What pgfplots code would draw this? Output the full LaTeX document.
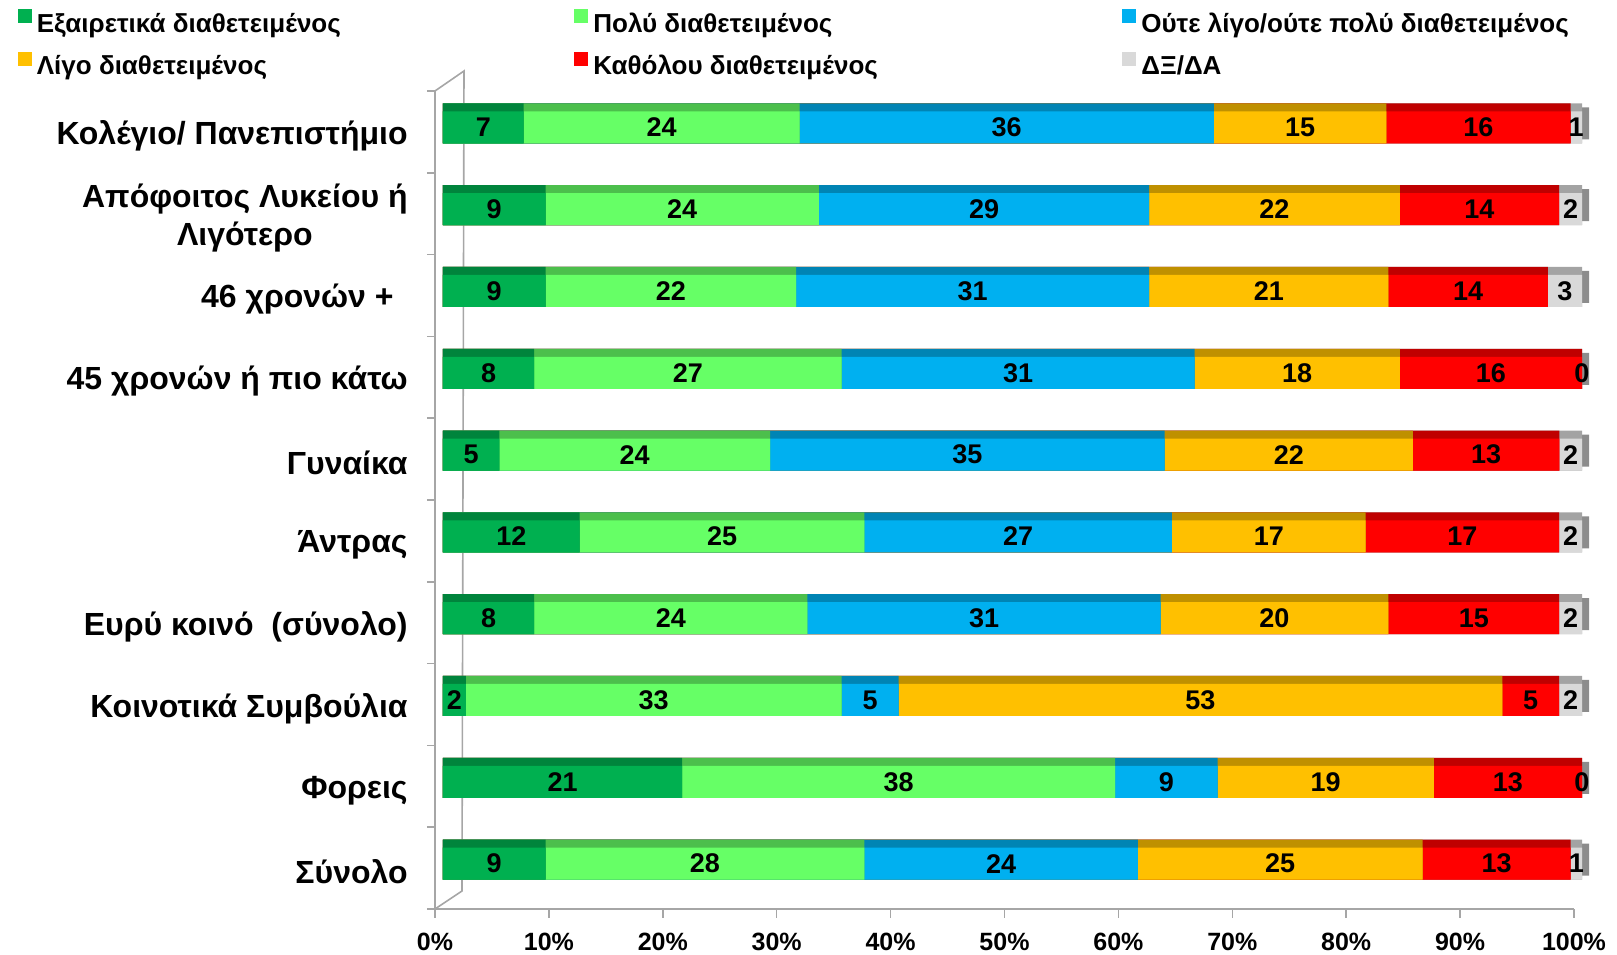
\documentclass[border=0pt]{standalone}
\usepackage{pgfplots}
\pgfplotsset{compat=1.18}
\usepackage{pgfplotstable}
\usepackage{fontspec}
\setmainfont{Liberation Sans}
\definecolor{cA}{HTML}{00B050}
\definecolor{cB}{HTML}{66FF66}
\definecolor{cC}{HTML}{00B0F0}
\definecolor{cD}{HTML}{FFC000}
\definecolor{cE}{HTML}{FF0000}
\definecolor{cF}{HTML}{D9D9D9}
\definecolor{axgray}{HTML}{A6A6A6}

% y: 0 = bottom category
\pgfplotstableread{
y a b c d e f
0 9 28 24 25 13 1
1 21 38 9 19 13 0
2 2 33 5 53 5 2
3 8 24 31 20 15 2
4 12 25 27 17 17 2
5 5 24 35 22 13 2
6 8 27 31 18 16 0
7 9 22 31 21 14 3
8 9 24 29 22 14 2
9 7 24 36 15 16 1
}\data

\newcommand\cumA{(\thisrow{a})}
\newcommand\cumB{(\thisrow{a}+\thisrow{b})}
\newcommand\cumC{(\thisrow{a}+\thisrow{b}+\thisrow{c})}
\newcommand\cumD{(\thisrow{a}+\thisrow{b}+\thisrow{c}+\thisrow{d})}
\newcommand\cumE{(\thisrow{a}+\thisrow{b}+\thisrow{c}+\thisrow{d}+\thisrow{e})}
\newcommand\cumF{(\thisrow{a}+\thisrow{b}+\thisrow{c}+\thisrow{d}+\thisrow{e}+\thisrow{f})}

\newcommand\segbar[2]{%
  \addplot[xbar, bar width=20pt, bar shift=4.25pt, xshift=4pt, fill=#1!75!black, draw=none, forget plot]
    table[y=y, x expr={100*#2/\cumF}] \data;
  \addplot[xbar, bar width=16pt, bar shift=2.25pt, xshift=4pt, fill=#1, draw=none, forget plot]
    table[y=y, x expr={100*#2/\cumF}] \data;
}
\newcommand\seglabel[2]{%
  \addplot[draw=none, mark=none, forget plot, nodes near coords, point meta=explicit symbolic,
    every node near coord/.style={font=\bfseries\fontsize{13.5}{13.5}\selectfont, anchor=center, inner sep=0pt, yshift=2.25pt, xshift=4pt}]
    table[y=y, x expr={100*(#2)/\cumF}, meta=#1] \data;
}

\begin{document}
\begin{tikzpicture}
\begin{axis}[
  scale only axis,
  width=569.5pt, height=409pt,
  xmin=0, xmax=100, ymin=-0.5, ymax=9.5,
  clip=false,
  axis lines*=left,
  axis line style={axgray, line width=1pt},
  tick align=outside,
  xtick={0,10,...,100},
  xticklabel={\pgfmathprintnumber{\tick}\%},
  /pgf/number format/assume math mode=true,
  x tick label style={font=\bfseries\fontsize{12.5}{12.5}\selectfont, yshift=-4pt},
  xtick style={axgray, line width=0.8pt},
  major tick length=4.5pt,
  minor tick length=4pt,
  ytick={0,...,9},
  yticklabels={Σύνολο, Φορεις, Κοινοτικά Συμβούλια, Ευρύ κοινό\ \ (σύνολο), Άντρας, Γυναίκα,
    45 χρονών ή πιο κάτω, 46 χρονών +\rule{7pt}{0pt}, {Απόφοιτος Λυκείου ή\\Λιγότερο}, Κολέγιο/ Πανεπιστήμιο},
  y tick label style={font=\bfseries\fontsize{16}{19}\selectfont, align=center, inner sep=0pt, xshift=-9pt, yshift=-2pt},
  major y tick style={draw=none},
  minor ytick={-0.5,0.5,...,9.5},
  minor y tick style={axgray, line width=0.8pt},
  legend columns=3,
  legend cell align=left,
  legend style={at={(rel axis cs:0,1)}, anchor=north west, xshift=-208.75pt, yshift=41pt,
    draw=none, fill=none, inner sep=0pt, column sep=0pt, row sep=6.6pt,
    font=\bfseries\fontsize{13}{13}\selectfont,
    nodes={inner sep=0pt, text height=10pt, text depth=3.5pt}},
  legend image code/.code={\fill[#1] (0pt,1.1pt) rectangle (7pt,8.1pt); \path (9.5pt,0pt);},
]
\addlegendimage{fill=cA, draw=none}
\addlegendentry{\makebox[268.75pt][l]{Εξαιρετικά διαθετειμένος}}
\addlegendimage{fill=cB, draw=none}
\addlegendentry{\makebox[264.5pt][l]{Πολύ διαθετειμένος}}
\addlegendimage{fill=cC, draw=none}
\addlegendentry{Ούτε λίγο/ούτε πολύ διαθετειμένος}
\addlegendimage{fill=cD, draw=none}
\addlegendentry{\makebox[268.75pt][l]{Λίγο διαθετειμένος}}
\addlegendimage{fill=cE, draw=none}
\addlegendentry{\makebox[264.5pt][l]{Καθόλου διαθετειμένος}}
\addlegendimage{fill=cF, draw=none}
\addlegendentry{ΔΞ/ΔΑ}

% 3D back wall
\draw[axgray, line width=0.8pt] (rel axis cs:0,0) -- ([xshift=13.5pt,yshift=9pt]rel axis cs:0,0)
  -- ([xshift=14.5pt,yshift=10pt]rel axis cs:0,1) -- (rel axis cs:0,1);

% right side face of the bars
\addplot[xbar, bar width=16pt, bar shift=4.25pt, xshift=7.5pt, fill=black!45, draw=none, forget plot]
  table[y=y, x expr={100*\cumF/\cumF}] \data;

\segbar{cF}{\cumF}
\segbar{cE}{\cumE}
\segbar{cD}{\cumD}
\segbar{cC}{\cumC}
\segbar{cB}{\cumB}
\segbar{cA}{\cumA}

\seglabel{a}{\thisrow{a}/2}
\seglabel{b}{\thisrow{a}+\thisrow{b}/2}
\seglabel{c}{\thisrow{a}+\thisrow{b}+\thisrow{c}/2}
\seglabel{d}{\thisrow{a}+\thisrow{b}+\thisrow{c}+\thisrow{d}/2}
\seglabel{e}{\thisrow{a}+\thisrow{b}+\thisrow{c}+\thisrow{d}+\thisrow{e}/2}
\seglabel{f}{\thisrow{a}+\thisrow{b}+\thisrow{c}+\thisrow{d}+\thisrow{e}+\thisrow{f}/2}

\coordinate (bl) at (rel axis cs:0,0);
\coordinate (tr) at (rel axis cs:1,1);
\end{axis}
\pgfresetboundingbox
\path[use as bounding box] ([xshift=-217.5pt,yshift=-23pt]bl) rectangle ([xshift=21.5pt,yshift=45.5pt]tr);
\end{tikzpicture}
\end{document}
